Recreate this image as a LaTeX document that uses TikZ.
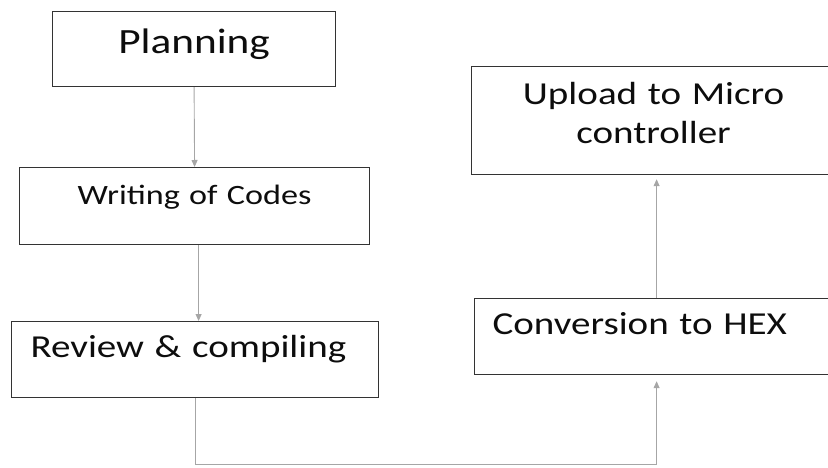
\documentclass[tikz,border=0pt]{standalone}
\usepackage{fontspec}
\usepackage{tikz}
\usetikzlibrary{arrows.meta,positioning}
\newfontfamily\carlito[FakeStretch=1.22]{Carlito}

\begin{document}
\begin{tikzpicture}[x=1pt,y=-1pt,
	box/.style={draw=black!80,line width=1.2pt,anchor=north west,inner ysep=0pt,text=black!95},
	big/.style={font={\carlito\fontsize{32}{39}\selectfont}},
	flow/.style={draw=black!35,line width=0.9pt,-{Triangle[length=7pt,width=6pt]}}]
	\useasboundingbox (0,0) rectangle (828,467);
	\clip (0,0) rectangle (828,467);
	% left column
	\node[box,inner xsep=0pt,text width=283pt,align=center,text height=42pt,text depth=33pt,
		font={\carlito\fontsize{35.5}{43}\selectfont}] (plan) at (52,11) {Planning};
	\node[box,inner xsep=0pt,text width=350pt,align=center,text height=37pt,text depth=40pt,
		font={\carlito\fontsize{28}{34}\selectfont}] (code) at (19,167) {Writing of Codes};
	\node[box,big,inner xsep=19pt,text width=329pt,align=left,text height=36pt,text depth=40pt] (rev) at (11,321) {Review \& compiling};
	% right column
	\node[box,big,inner xsep=18pt,text width=328pt,align=left,text height=36pt,text depth=40pt] (conv) at (474,298) {Conversion to HEX};
	\node[box,big,inner xsep=10pt,text width=344pt,align=center,text height=38pt,text depth=70pt] (up) at (471,66) {Upload to Micro\\controller};
	% connectors
	\draw[flow] (plan.south) -- (code.north);
	\draw[flow] ([xshift=4pt]code.south) -- ([xshift=4pt]code.south |- rev.north);
	\draw[flow,shorten >=6pt] (rev.south) -- ++(0,66) -| (conv.south);
	\draw[flow,shorten >=4pt] (conv.north) -- (conv.north |- up.south);
\end{tikzpicture}
\end{document}
